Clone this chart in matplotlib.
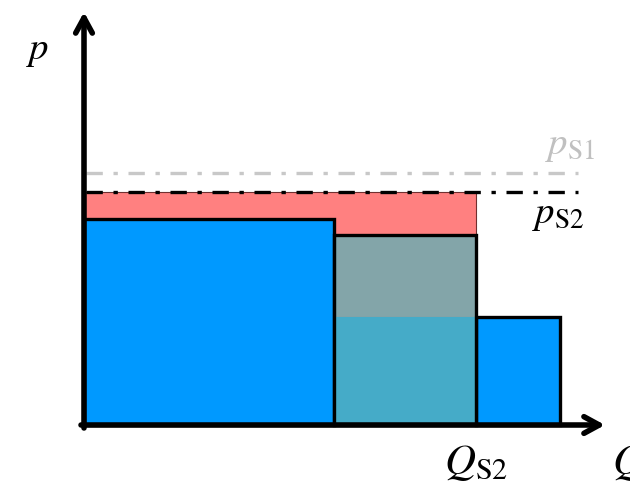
import matplotlib
matplotlib.use("Agg")
import matplotlib.pyplot as plt
from matplotlib.patches import Rectangle

plt.rcParams['mathtext.fontset'] = 'stix'

# quantities (x) and prices (y), origin at the axes corner
q_breaks = [0, 250, 392, 476]      # edges of the three supply blocks
block_p = [206, 190, 108]          # block heights
p_S1 = 252
p_S2 = 233
q_S2 = 392
line_end = 494

blue = '#0099FF'
red = '#FF8080'
teal = (92/255, 177/255, 183/255)

fig = plt.figure(figsize=(6.3, 4.83), dpi=100)
ax = fig.add_axes([0, 0, 1, 1])
ax.set_xlim(-84, 546)
ax.set_ylim(-58, 425)
ax.axis('off')

# red surplus area
ax.add_patch(Rectangle((q_breaks[0], block_p[2]), q_S2, p_S2 - block_p[2],
                       facecolor=red, edgecolor='#703030', lw=0.8, zorder=1))
# first block
ax.add_patch(Rectangle((q_breaks[0], 0), q_breaks[1] - q_breaks[0], block_p[0],
                       facecolor=blue, edgecolor='black', lw=2.4, zorder=2))
# low block running under the middle one
ax.add_patch(Rectangle((q_breaks[1], 0), q_breaks[3] - q_breaks[1], block_p[2],
                       facecolor=blue, edgecolor='none', zorder=2))
ax.add_patch(Rectangle((q_breaks[2], 0), q_breaks[3] - q_breaks[2], block_p[2],
                       facecolor='none', edgecolor='black', lw=2.4, zorder=3))
# middle block overlay
ax.add_patch(Rectangle((q_breaks[1], 0), q_breaks[2] - q_breaks[1], block_p[1],
                       facecolor=teal, alpha=0.76, edgecolor='none', zorder=3))
ax.add_patch(Rectangle((q_breaks[1], 0), q_breaks[2] - q_breaks[1], block_p[1],
                       facecolor='none', edgecolor='black', lw=2.4, zorder=4))

# price lines
ax.plot([2, line_end], [p_S1, p_S1], color='#C8C8C8', lw=2.4,
        dashes=(4.9, 3.2, 1.3, 3.2), zorder=5)
ax.plot([2, line_end], [p_S2, p_S2], color='black', lw=2.4,
        dashes=(4.9, 3.2, 1.3, 3.2), zorder=5)

# axes arrows
head = '->,head_length=1.1,head_width=0.6'
ax.annotate('', xy=(0, 413), xytext=(0, -3),
            arrowprops=dict(arrowstyle=head, lw=4, color='black',
                            shrinkA=0, shrinkB=0), zorder=6)
ax.annotate('', xy=(521, 0), xytext=(-3, 0),
            arrowprops=dict(arrowstyle=head, lw=4, color='black',
                            shrinkA=0, shrinkB=0), zorder=6)

# labels
ax.text(-46, 375, '$p$', fontsize=28, ha='center', va='center')
ax.text(486, 280, r'$p_{\mathrm{S1}}$', fontsize=28, color='#C0C0C0',
        ha='center', va='center')
ax.text(474, 211, r'$p_{\mathrm{S2}}$', fontsize=28, ha='center', va='center')
ax.text(q_S2, -37, r'$Q_{\mathrm{S2}}$', fontsize=31, ha='center', va='center')
ax.text(528, -37, '$Q$', fontsize=31, ha='left', va='center')

fig.savefig('out.png', dpi=100)
